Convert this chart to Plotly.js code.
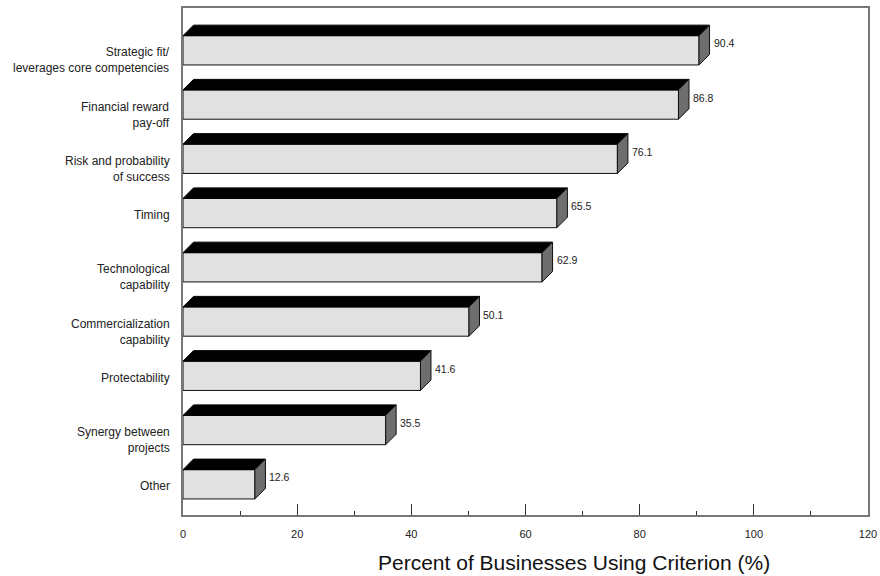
<!DOCTYPE html>
<html>
<head>
<meta charset="utf-8">
<script src="https://cdn.plot.ly/plotly-3.0.1.min.js"></script>
<style>html,body{margin:0;padding:0;background:#fff;}#chart{width:880px;height:576px;}</style>
</head>
<body>
<div id="chart"></div>
<script>
const categories = [
  "Strategic fit/<br>leverages core competencies",
  "Financial reward<br>pay-off",
  "Risk and probability<br>of success",
  "Timing",
  "Technological<br>capability",
  "Commercialization<br>capability",
  "Protectability",
  "Synergy between<br>projects",
  "Other"
];
const values = [90.4, 86.8, 76.1, 65.5, 62.9, 50.1, 41.6, 35.5, 12.6];
const valueLabels = ["90.4", "86.8", "76.1", "65.5", "62.9", "50.1", "41.6", "35.5", "12.6"];
const xTickVals = [0, 20, 40, 60, 80, 100, 120];
const xTickText = ["0", "20", "40", "60", "80", "100", "120"];
const xTitle = "Percent of Businesses Using Criterion (%)";

const n = categories.length;
const pos = categories.map((c, i) => n - 1 - i);
const barW = 0.54;      // bar thickness in category units
const dx = 1.84;        // 3D depth offset in x units
const dy = 0.194;       // 3D depth offset in category units

const traces = [];
traces.push({
  type: 'bar', orientation: 'h',
  x: values, y: pos, width: barW,
  marker: {color: '#e1e1e1', line: {color: '#111', width: 1}},
  hoverinfo: 'skip', showlegend: false
});
values.forEach((v, i) => {
  const p = pos[i];
  const top = p + barW / 2, bot = p - barW / 2;
  traces.push({
    type: 'scatter', mode: 'lines',
    x: [0, v, v + dx, dx, 0],
    y: [top, top, top + dy, top + dy, top],
    fill: 'toself', fillcolor: '#000',
    line: {color: '#000', width: 1},
    hoverinfo: 'skip', showlegend: false
  });
  traces.push({
    type: 'scatter', mode: 'lines',
    x: [v, v + dx, v + dx, v, v],
    y: [bot, bot + dy, top + dy, top, bot],
    fill: 'toself', fillcolor: '#6e6e6e',
    line: {color: '#111', width: 1},
    hoverinfo: 'skip', showlegend: false
  });
});

const annotations = [];
categories.forEach((c, i) => {
  annotations.push({
    xref: 'paper', yref: 'y', x: 0, y: pos[i],
    xanchor: 'right', yanchor: 'top', xshift: -11, yshift: 7,
    text: c, align: 'right', showarrow: false,
    font: {family: 'Liberation Sans, Arial, sans-serif', size: 12, color: '#222'}
  });
  annotations.push({
    xref: 'x', yref: 'y', x: values[i] + dx, y: pos[i],
    xanchor: 'left', yanchor: 'middle', xshift: 2, yshift: 7,
    text: valueLabels[i], showarrow: false,
    font: {family: 'Liberation Sans, Arial, sans-serif', size: 10.5, color: '#222'}
  });
});
annotations.push({
  xref: 'paper', yref: 'paper', x: 0.571, y: 0,
  xanchor: 'center', yanchor: 'middle', yshift: -47,
  text: xTitle, showarrow: false,
  font: {family: 'Liberation Sans, Arial, sans-serif', size: 21, color: '#111'}
});

const layout = {
  width: 880, height: 576,
  margin: {l: 183, r: 12, t: 8, b: 61},
  paper_bgcolor: '#fff', plot_bgcolor: '#fff',
  showlegend: false,
  font: {family: 'Liberation Sans, Arial, sans-serif', color: '#222'},
  xaxis: {
    range: [0, 120], tickvals: xTickVals, ticktext: xTickText,
    ticks: 'inside', ticklen: 11, tickwidth: 1, tickcolor: '#333',
    minor: {dtick: 10, tick0: 0, ticks: 'inside', ticklen: 4, tickwidth: 1, tickcolor: '#333', showgrid: false},
    showgrid: false, zeroline: false,
    showline: true, linecolor: '#777', linewidth: 2, mirror: true,
    tickfont: {size: 11, color: '#222'}, ticklabelstandoff: 8,
    fixedrange: true
  },
  yaxis: {
    range: [-0.566, 8.78], showticklabels: false, ticks: '',
    showgrid: false, zeroline: false,
    showline: true, linecolor: '#777', linewidth: 2, mirror: true,
    fixedrange: true
  },
  annotations: annotations
};

Plotly.newPlot('chart', traces, layout, {displayModeBar: false, staticPlot: true});
</script>
</body>
</html>
